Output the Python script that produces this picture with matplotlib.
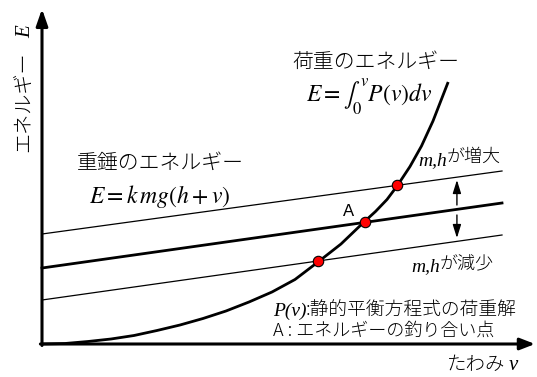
import matplotlib
matplotlib.use("Agg")
import matplotlib.pyplot as plt

plt.rcParams['mathtext.fontset'] = 'stix'
plt.rcParams['font.family'] = ['Noto Sans CJK JP', 'DejaVu Sans']

# ---- data (v: deflection, E: energy, arbitrary units) ----
load_v = [0, 0.5, 1, 1.5, 2, 2.5, 3, 3.5, 4, 4.5, 5, 5.5, 6, 6.25, 6.5,
          6.75, 7, 7.25, 7.5, 7.72, 8, 8.25, 8.5, 8.83]
load_E = [0, 0.05, 0.25, 0.5, 0.85, 1.35, 1.9, 2.55, 3.3, 4.2, 5.2, 6.45,
          8.2, 9.1, 10.0, 11.1, 12.2, 13.25, 14.45, 15.8, 17.75, 19.8,
          22.3, 26.2]

weight_v = [0, 10]
weight_E_up = [11.0, 17.3]    # m,h increased
weight_E_mid = [7.6, 14.1]    # reference
weight_E_low = [4.4, 10.9]    # m,h decreased

eq_v = [6.0, 7.02, 7.72]
eq_E = [8.3, 12.16, 15.86]

W, H = 537, 377
fig = plt.figure(figsize=(W / 100, H / 100), dpi=100)
ax = fig.add_axes([0, 0, 1, 1])
ax.set_xlim(-42 / 46, (W - 42) / 46)
ax.set_ylim((344 - H) / 10, 344 / 10)
ax.axis('off')

def P(x, y):
    return (x / W, 1 - y / H)

# axes arrows
ax.annotate('', xy=((535 - 42) / 46, 0), xytext=(-0.035, 0),
            arrowprops=dict(arrowstyle='-|>,head_length=0.9,head_width=0.35',
                            lw=2.2, color='black', shrinkA=0, shrinkB=0,
                            mutation_scale=10))
ax.annotate('', xy=(0, (344 - 9) / 10), xytext=(0, -0.15),
            arrowprops=dict(arrowstyle='-|>,head_length=1.0,head_width=0.35',
                            lw=2.2, color='black', shrinkA=0, shrinkB=0,
                            mutation_scale=10))

# weight energy lines
ax.plot(weight_v, weight_E_up, color='black', lw=0.9)
ax.plot(weight_v, weight_E_mid, color='black', lw=2.0)
ax.plot(weight_v, weight_E_low, color='black', lw=0.9)

# load energy curve
ax.plot(load_v, load_E, color='black', lw=2.0, solid_capstyle='butt')

# equilibrium points
ax.plot(eq_v, eq_E, 'o', ms=7.5, mfc='red', mec='black', mew=0.8, zorder=5)

# up / down arrows
arrow_kw = dict(arrowstyle='-|>,head_length=0.8,head_width=0.25', lw=1.0,
                color='black', shrinkA=0, shrinkB=0, mutation_scale=10)
ax.annotate('', xy=(9.02, 16.4), xytext=(9.02, 13.9), arrowprops=arrow_kw)
ax.annotate('', xy=(9.02, 10.6), xytext=(9.02, 12.9), arrowprops=arrow_kw)

tf = fig.transFigure
jp = 'Noto Sans CJK JP'
ser = 'Liberation Serif'
jkw = dict(family=jp, fontweight='light', transform=tf)
ikw = dict(family=ser, style='italic', transform=tf)

# y label
fig.text(*P(25, 102), 'エネルギー', rotation=90, ha='center', va='center',
         fontsize=14.5, **jkw)
fig.text(*P(26, 32), 'E', rotation=90, ha='center', va='center',
         fontsize=15, **ikw)

# load energy
fig.text(*P(376, 62), '荷重のエネルギー', ha='center', va='center',
         fontsize=15, **jkw)
fig.text(*P(306, 97), r'$E=\int_0^v P\left(v\right)dv$', ha='left', va='center',
         fontsize=17, transform=tf)

# m,h increased
fig.text(*P(447, 165), 'm,h', ha='right', va='baseline', fontsize=14, **ikw)
fig.text(*P(447, 157), 'が増大', ha='left', va='center', fontsize=13, **jkw)

# weight energy
fig.text(*P(160, 163), '重錘のエネルギー', ha='center', va='center',
         fontsize=15, **jkw)
fig.text(*P(89, 197), r'$E=k\,mg\left(h+v\right)$', ha='left', va='center',
         fontsize=17, transform=tf)

fig.text(*P(349, 212), 'A', ha='center', va='center', fontsize=12,
         family='Liberation Sans', transform=tf)

# m,h decreased
fig.text(*P(440, 271), 'm,h', ha='right', va='baseline', fontsize=14, **ikw)
fig.text(*P(440, 264), 'が減少', ha='left', va='center', fontsize=13, **jkw)

# notes
fig.text(*P(273, 316), 'P(v)', ha='left', va='baseline', fontsize=14, **ikw)
fig.text(*P(306, 311), ':静的平衡方程式の荷重解', ha='left', va='center',
         fontsize=13.5, **jkw)
fig.text(*P(273, 331), 'A : エネルギーの釣り合い点', ha='left', va='center',
         fontsize=13, **jkw)

# x label
fig.text(*P(447, 365), 'たわみ', ha='left', va='center', fontsize=14, **jkw)
fig.text(*P(509, 370), 'v', ha='left', va='baseline', fontsize=15, **ikw)

fig.savefig('out.png', dpi=100, facecolor='white')
